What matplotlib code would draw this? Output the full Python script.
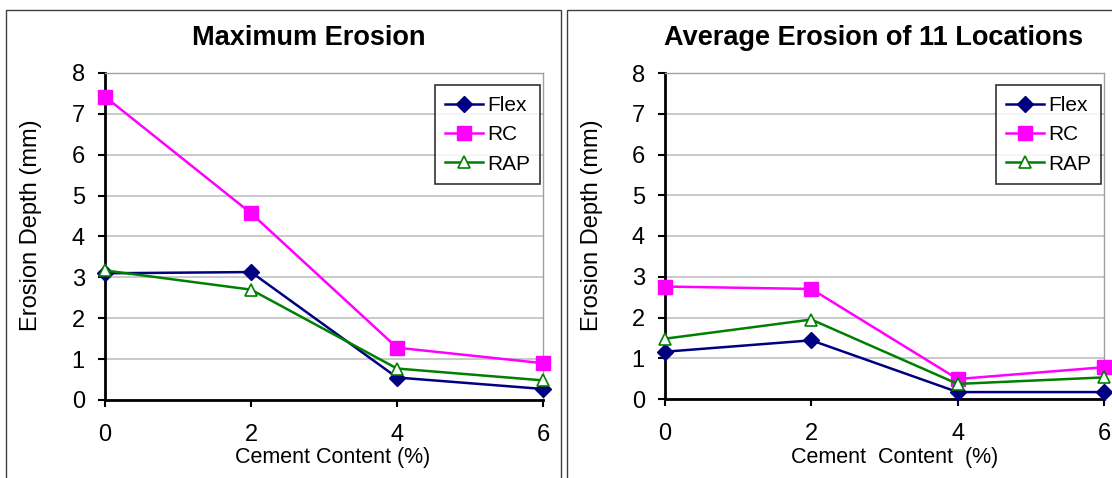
import matplotlib
matplotlib.use('Agg')
import matplotlib.pyplot as plt
from matplotlib.patches import Rectangle

plt.rcParams['font.family'] = ['Liberation Sans', 'DejaVu Sans']

cement = [0, 2, 4, 6]
y_ticks = [0, 1, 2, 3, 4, 5, 6, 7, 8]

max_flex = [3.10, 3.13, 0.55, 0.27]
max_rc = [7.42, 4.57, 1.28, 0.90]
max_rap = [3.17, 2.70, 0.77, 0.48]

avg_flex = [1.16, 1.44, 0.17, 0.17]
avg_rc = [2.76, 2.70, 0.49, 0.78]
avg_rap = [1.48, 1.95, 0.37, 0.53]

W, H = 1112, 478
fig = plt.figure(figsize=(W / 100, H / 100), dpi=100)


def px_axes(x0, y0, x1, y1):
    # pixel box (top-left origin) -> figure fraction
    return fig.add_axes([x0 / W, 1 - y1 / H, (x1 - x0) / W, (y1 - y0) / H])


def px_text(x, y, s, **kw):
    return fig.text(x / W, 1 - y / H, s, ha='center', va='center', **kw)


# outer chart frames
fig.patches.append(Rectangle((6 / W, -0.1), (561 - 6) / W, 1.1 - 10 / H,
                             transform=fig.transFigure, fill=False,
                             edgecolor='#404040', linewidth=1.0))
fig.patches.append(Rectangle((567 / W, -0.1), 0.5, 1.1 - 10 / H,
                             transform=fig.transFigure, fill=False,
                             edgecolor='#404040', linewidth=1.0))

panels = [
    (px_axes(105, 73, 543, 400), 'Maximum Erosion', max_flex, max_rc, max_rap,
     'Cement Content (%)', 309, 31, 333),
    (px_axes(665, 73, 1104, 399), 'Average Erosion of 11 Locations', avg_flex, avg_rc, avg_rap,
     'Cement  Content  (%)', 874, 592, 895),
]

for ax, title, flex, rc, rap, xlab, tx, yx, xx in panels:
    ax.plot(cement, flex, color='#000080', marker='D', markersize=8, linewidth=1.8,
            label='Flex', clip_on=False, zorder=3)
    ax.plot(cement, rc, color='#FF00FF', marker='s', markersize=10, linewidth=1.8,
            label='RC', clip_on=False, zorder=3)
    ax.plot(cement, rap, color='#008000', marker='^', markersize=9, linewidth=1.8,
            markerfacecolor='white', markeredgecolor='#008000', markeredgewidth=1.2,
            label='RAP', clip_on=False, zorder=4)
    ax.set_xlim(0, 6)
    ax.set_ylim(0, 8)
    ax.set_xticks(cement)
    ax.set_yticks(y_ticks)
    ax.grid(axis='y', color='#c0c0c0', linewidth=1.2)
    ax.set_axisbelow(True)
    for s in ['top', 'right']:
        ax.spines[s].set_color('#a0a0a0')
        ax.spines[s].set_linewidth(1.0)
    for s in ['left', 'bottom']:
        ax.spines[s].set_color('black')
        ax.spines[s].set_linewidth(2.0)
    ax.tick_params(axis='both', direction='out', length=5, width=1.5, labelsize=17)
    ax.tick_params(axis='x', pad=12.5)
    ax.tick_params(axis='y', pad=9.5)

    px_text(tx, 38, title, fontsize=19.5, fontweight='bold')
    px_text(yx, 225, 'Erosion Depth (mm)', fontsize=17, rotation=90)
    px_text(xx, 458, xlab, fontsize=15.5)

    leg = ax.legend(loc='upper right', bbox_to_anchor=(0.994, 0.962), fontsize=15,
                    frameon=True, fancybox=False, edgecolor='black',
                    handlelength=1.8, handletextpad=0.2, borderpad=0.5,
                    labelspacing=0.5, borderaxespad=0)
    leg.get_frame().set_linewidth(1.2)

fig.savefig('out.png', dpi=100)
